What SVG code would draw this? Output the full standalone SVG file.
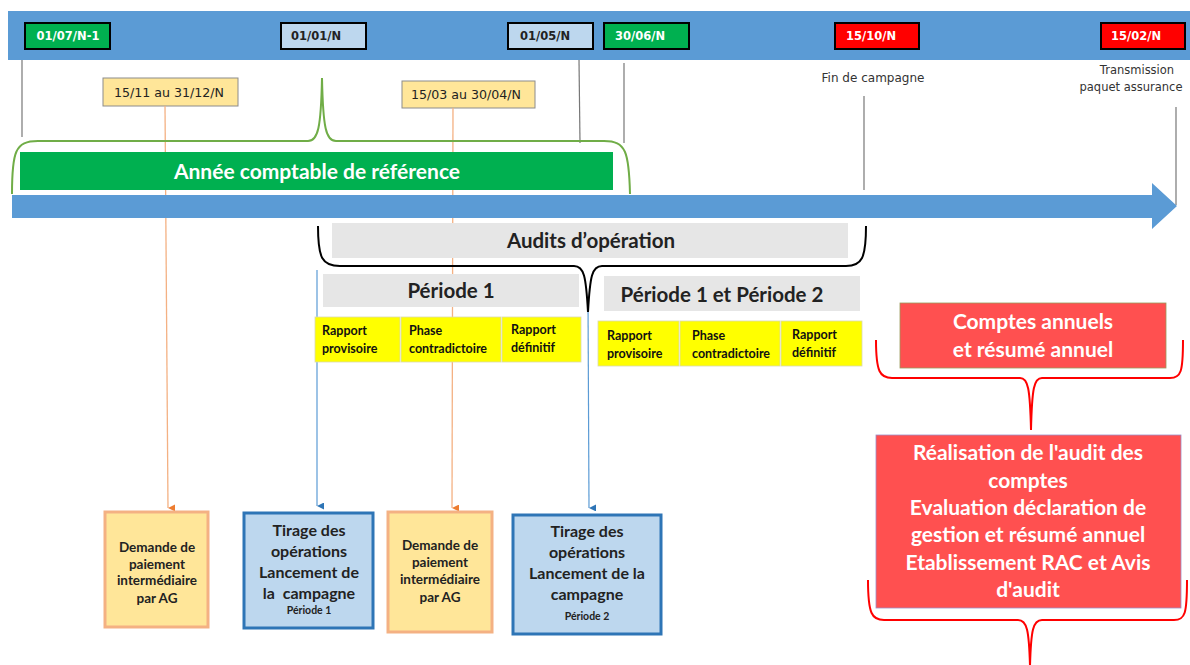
<svg xmlns="http://www.w3.org/2000/svg" width="1190" height="665" viewBox="0 0 1190 665">
<style>
.date{stroke:#000;stroke-width:2}
.dt{font-family:"DejaVu Sans",sans-serif;font-size:11.5px;font-weight:bold;text-anchor:middle}
.sm{font-family:"DejaVu Sans",sans-serif;font-size:12px;fill:#333;text-anchor:middle}
.lbl{fill:#FFE699;stroke:#8c8c8c;stroke-width:1}
.c{font-family:Lato,"Open Sans",sans-serif;font-weight:bold;text-anchor:middle}
.gray{fill:#E6E6E6}
.yel{fill:#FFFF00;stroke:#d9d9b0;stroke-width:0.8}
.yt{font-family:Lato,"Open Sans",sans-serif;font-weight:bold;font-size:12.5px;fill:#111}
.tick{stroke:#777;stroke-width:1.2;fill:none}
.org{stroke:#F4B183;stroke-width:1.3;fill:none}
.blu{stroke:#5B9BD5;stroke-width:1.2;fill:none}
.brace{fill:none;stroke-width:2}
.red{fill:#FF5050}
</style>
<defs>
<marker id="ao" viewBox="0 0 10 10" refX="5" refY="10" markerWidth="7" markerHeight="7" orient="auto-start-reverse" markerUnits="userSpaceOnUse"><path d="M0,0 L10,0 L5,10 Z" fill="#ED7D31"/></marker>
<marker id="ab" viewBox="0 0 10 10" refX="5" refY="10" markerWidth="7" markerHeight="7" orient="auto-start-reverse" markerUnits="userSpaceOnUse"><path d="M0,0 L10,0 L5,10 Z" fill="#2E75B6"/></marker>
</defs>
<rect width="1190" height="665" fill="#fff"/>

<g id="timeline-bar">
<rect x="8" y="11" width="1182" height="49" fill="#5B9BD5"/>
</g>

<g id="date-0107">
<rect class="date" x="25" y="23" width="85" height="26" fill="#00B050"/>
<text class="dt" x="68" y="40" fill="#fff">01/07/N-1</text>
</g>
<g id="date-0101">
<rect class="date" x="281" y="23" width="85" height="26" fill="#BDD7EE"/>
<text class="dt" x="316" y="40" fill="#222">01/01/N</text>
</g>
<g id="date-0105">
<rect class="date" x="508" y="23" width="85" height="26" fill="#BDD7EE"/>
<text class="dt" x="545" y="40" fill="#222">01/05/N</text>
</g>
<g id="date-3006">
<rect class="date" x="604" y="23" width="85" height="26" fill="#00B050"/>
<text class="dt" x="640" y="40" fill="#fff">30/06/N</text>
</g>
<g id="date-1510">
<rect class="date" x="835" y="23" width="84" height="26" fill="#FF0000"/>
<text class="dt" x="871" y="40" fill="#fff">15/10/N</text>
</g>
<g id="date-1502">
<rect class="date" x="1101" y="23" width="84" height="26" fill="#FF0000"/>
<text class="dt" x="1136" y="40" fill="#fff">15/02/N</text>
</g>

<g id="label-fin">
<text class="sm" x="873" y="82">Fin de campagne</text>
</g>
<g id="label-transmission">
<text class="sm" x="1137" y="74" style="font-size:11.5px">Transmission</text>
<text class="sm" x="1131" y="91" style="font-size:11.5px">paquet assurance</text>
</g>

<g id="label-1511">
<rect class="lbl" x="103" y="78" width="135" height="28"/>
<text class="sm" x="169" y="97" style="font-size:12.6px;fill:#222">15/11 au 31/12/N</text>
</g>
<g id="label-1503">
<rect class="lbl" x="402" y="81" width="133" height="27"/>
<text class="sm" x="466" y="99" style="font-size:12.6px;fill:#222">15/03 au 30/04/N</text>
</g>

<g id="connectors">
<line class="tick" x1="22" y1="60" x2="22" y2="137"/>
<line class="tick" x1="579" y1="60" x2="580" y2="143"/>
<line class="tick" x1="624" y1="63" x2="624" y2="143"/>
<line class="tick" x1="864" y1="96" x2="864" y2="190"/>
<line class="tick" x1="1176" y1="107" x2="1176" y2="205"/>
<line class="org" x1="165" y1="106" x2="168" y2="508" marker-end="url(#ao)"/>
<line class="org" x1="453" y1="108" x2="452" y2="508" marker-end="url(#ao)"/>
<line class="blu" x1="317" y1="270" x2="317" y2="506" marker-end="url(#ab)"/>
<line class="blu" x1="588" y1="300" x2="589" y2="508" marker-end="url(#ab)"/>
</g>

<g id="brace-annee">
<path class="brace" stroke="#70AD47" d="M12,194 C12,152 15,141 38,141 L308,141 C318,141 321,128 322,78 C323,128 326,141 336,141 L604,141 C626,141 629,152 630,194"/>
</g>

<g id="annee-comptable">
<rect x="20" y="152" width="593" height="38" fill="#00B050"/>
<text class="c" x="317" y="179" font-size="21" fill="#fff">Année comptable de référence</text>
</g>

<g id="main-arrow">
<path d="M12,195 L1152,195 L1152,183 L1177,206 L1152,229 L1152,218 L12,218 Z" fill="#5B9BD5"/>
</g>

<g id="brace-audits">
<path class="brace" stroke="#000" d="M318,226 C318,258 322,266 340,266 L574,266 C584,266 586,276 588,312 C590,276 592,266 602,266 L846,266 C862,266 866,258 866,226"/>
</g>

<g id="audits">
<rect class="gray" x="332" y="223" width="516" height="35"/>
<text class="c" x="591" y="248" font-size="20.5" fill="#222">Audits d’opération</text>
</g>
<g id="periode1">
<rect class="gray" x="323" y="274" width="256" height="33"/>
<text class="c" x="451" y="298" font-size="20.5" fill="#222">Période 1</text>
</g>
<g id="periode12">
<rect class="gray" x="604" y="276" width="256" height="35"/>
<text class="c" x="722" y="302" font-size="20.5" fill="#222">Période 1 et Période 2</text>
</g>

<g id="p1-rapport-provisoire">
<rect class="yel" x="315" y="317" width="85" height="45"/>
<text class="yt" x="322" y="335">Rapport</text><text class="yt" x="322" y="353">provisoire</text>
</g>
<g id="p1-phase">
<rect class="yel" x="401" y="317" width="100" height="45"/>
<text class="yt" x="409" y="335">Phase</text><text class="yt" x="409" y="353">contradictoire</text>
</g>
<g id="p1-rapport-definitif">
<rect class="yel" x="502" y="317" width="79" height="45"/>
<text class="yt" x="511" y="334">Rapport</text><text class="yt" x="511" y="352">définitif</text>
</g>
<g id="p2-rapport-provisoire">
<rect class="yel" x="598" y="321" width="81" height="45"/>
<text class="yt" x="607" y="340">Rapport</text><text class="yt" x="607" y="358">provisoire</text>
</g>
<g id="p2-phase">
<rect class="yel" x="680" y="321" width="100" height="45"/>
<text class="yt" x="692" y="340">Phase</text><text class="yt" x="692" y="358">contradictoire</text>
</g>
<g id="p2-rapport-definitif">
<rect class="yel" x="781" y="321" width="81" height="45"/>
<text class="yt" x="792" y="339">Rapport</text><text class="yt" x="792" y="357">définitif</text>
</g>

<g id="demande1">
<rect x="105" y="512" width="103" height="115" fill="#FFE699" stroke="#F4B183" stroke-width="3"/>
<text class="c" font-size="13.5" fill="#222"><tspan x="157" y="552">Demande de</tspan><tspan x="157" y="569">paiement</tspan><tspan x="157" y="585">intermédiaire</tspan><tspan x="157" y="603">par AG</tspan></text>
</g>
<g id="tirage1">
<rect x="244" y="513" width="129" height="115" fill="#BDD7EE" stroke="#2E75B6" stroke-width="3"/>
<text class="c" font-size="16" fill="#222"><tspan x="309" y="536">Tirage des</tspan><tspan x="309" y="557">opérations</tspan><tspan x="309" y="578">Lancement de</tspan><tspan x="309" y="599" xml:space="preserve">la  campagne</tspan></text>
<text class="c" x="309" y="614" font-size="10.5" fill="#222">Période 1</text>
</g>
<g id="demande2">
<rect x="388" y="512" width="104" height="120" fill="#FFE699" stroke="#F4B183" stroke-width="3"/>
<text class="c" font-size="13.5" fill="#222"><tspan x="440" y="550">Demande de</tspan><tspan x="440" y="567">paiement</tspan><tspan x="440" y="584">intermédiaire</tspan><tspan x="440" y="602">par AG</tspan></text>
</g>
<g id="tirage2">
<rect x="513" y="515" width="148" height="119" fill="#BDD7EE" stroke="#2E75B6" stroke-width="3"/>
<text class="c" font-size="16" fill="#222"><tspan x="587" y="537">Tirage des</tspan><tspan x="587" y="558">opérations</tspan><tspan x="587" y="579">Lancement de la</tspan><tspan x="587" y="600">campagne</tspan></text>
<text class="c" x="587" y="620" font-size="10.5" fill="#222">Période 2</text>
</g>

<g id="comptes-annuels">
<rect class="red" x="900" y="303" width="266" height="65" stroke="#9a9a5a" stroke-width="0.8"/>
<text class="c" font-size="21" fill="#fff"><tspan x="1033" y="329">Comptes annuels</tspan><tspan x="1033" y="357">et résumé annuel</tspan></text>
</g>
<g id="brace-comptes">
<path class="brace" stroke="#FF0000" d="M876,340 C876,372 880,378 892,378 L1020,378 C1028,378 1030,388 1031,430 C1032,388 1034,378 1042,378 L1170,378 C1181,378 1183,372 1183,340"/>
</g>

<g id="realisation">
<rect class="red" x="876" y="435" width="305" height="173" stroke="#9c8fc9" stroke-width="0.8"/>
<text class="c" font-size="21" fill="#fff"><tspan x="1028" y="460">Réalisation de l'audit des</tspan><tspan x="1028" y="488">comptes</tspan><tspan x="1028" y="515">Evaluation déclaration de</tspan><tspan x="1028" y="542">gestion et résumé annuel</tspan><tspan x="1028" y="570">Etablissement RAC et Avis</tspan><tspan x="1028" y="597">d'audit</tspan></text>
</g>
<g id="brace-realisation">
<path class="brace" stroke="#FF0000" d="M868,580 C868,614 872,620 884,620 L1018,620 C1027,620 1029,630 1030,666 C1031,630 1033,620 1042,620 L1174,620 C1185,620 1187,614 1187,580"/>
</g>
</svg>
